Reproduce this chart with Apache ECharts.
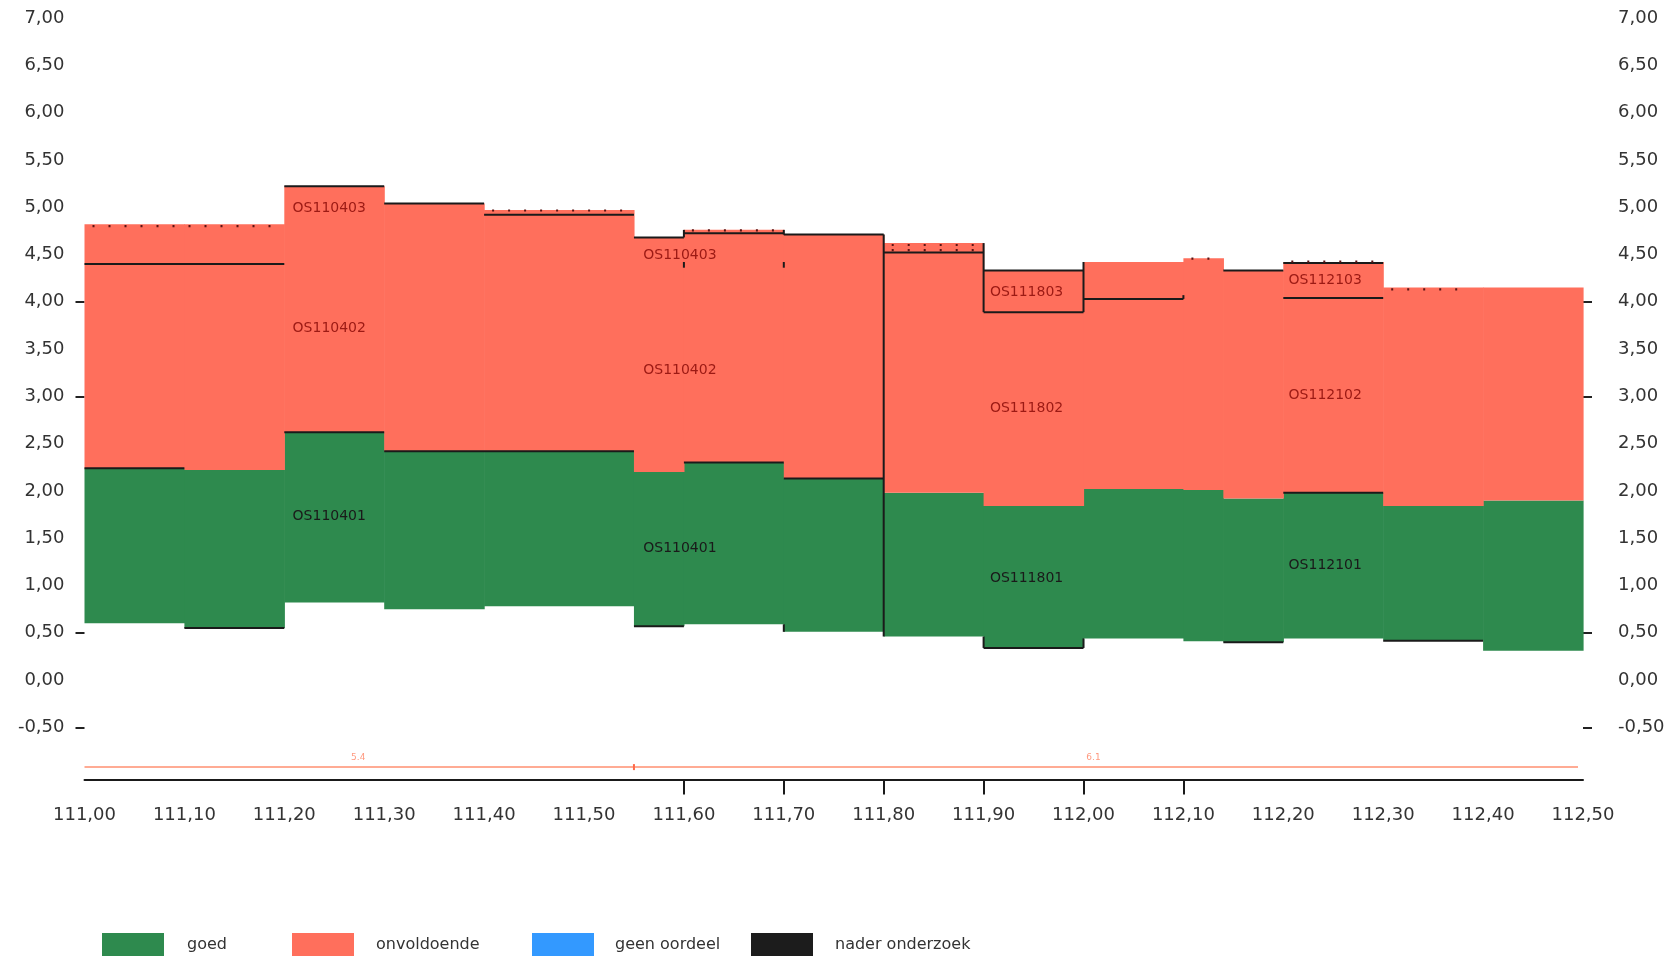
<!DOCTYPE html>
<html>
<head>
<meta charset="utf-8">
<script src="https://cdn.jsdelivr.net/npm/echarts@6/dist/echarts.min.js"></script>
<style>
html,body{margin:0;padding:0;background:#fff;}
#chart{width:1678px;height:958px;}
</style>
</head>
<body>
<div id="chart"></div>
<script>
// ---- data ----
const segStart = [111.00, 111.10, 111.20, 111.30, 111.40, 111.55, 111.60, 111.70, 111.80, 111.90, 112.00, 112.10, 112.14, 112.20, 112.30, 112.40];
const segEnd   = [111.10, 111.20, 111.30, 111.40, 111.55, 111.60, 111.70, 111.80, 111.90, 112.00, 112.10, 112.14, 112.20, 112.30, 112.40, 112.50];
const goedBottom = [0.60, 0.55, 0.82, 0.75, 0.78, 0.57, 0.59, 0.51, 0.46, 0.34, 0.44, 0.41, 0.40, 0.44, 0.42, 0.31];
const goedTop    = [2.24, 2.22, 2.62, 2.42, 2.42, 2.20, 2.30, 2.13, 1.98, 1.84, 2.02, 2.01, 1.92, 1.98, 1.84, 1.90];
const onvoldoendeTop = [4.82, 4.82, 5.22, 5.04, 4.97, 4.68, 4.76, 4.71, 4.62, 4.33, 4.42, 4.46, 4.33, 4.42, 4.15, 4.15];

// black boundary lines: [x1, x2, y]
const blackLines = [
  [111.00, 111.20, 4.40], [111.00, 111.10, 2.24], [111.10, 111.20, 0.55],
  [111.20, 111.30, 5.22], [111.20, 111.30, 2.62], [111.30, 111.40, 5.04],
  [111.30, 111.55, 2.42], [111.40, 111.55, 4.92], [111.55, 111.60, 4.68],
  [111.55, 111.60, 0.57], [111.60, 111.70, 4.725], [111.60, 111.70, 2.30],
  [111.70, 111.80, 4.71], [111.70, 111.80, 2.13], [111.80, 111.90, 4.52],
  [111.90, 112.00, 4.33], [111.90, 112.00, 3.89], [111.90, 112.00, 0.34],
  [112.00, 112.10, 4.03], [112.14, 112.20, 4.33], [112.14, 112.20, 0.40],
  [112.20, 112.30, 4.41], [112.20, 112.30, 4.04], [112.20, 112.30, 1.98],
  [112.30, 112.40, 0.415]
];
// vertical boundary lines: [x, y1, y2]
const blackVerticals = [
  [111.60, 4.36, 4.42], [111.70, 4.36, 4.42], [111.60, 4.68, 4.76], [111.70, 4.71, 4.76],
  [111.80, 0.46, 4.71], [111.90, 3.89, 4.62], [112.00, 3.89, 4.42],
  [111.90, 0.34, 0.46], [112.00, 0.34, 0.44], [111.70, 0.51, 0.59], [112.10, 4.03, 4.07]
];
// dotted lines: [x1, x2, y]
const dottedLines = [
  [111.00, 111.20, 4.80], [111.40, 111.55, 4.965], [111.60, 111.70, 4.755],
  [111.80, 111.90, 4.60], [111.80, 111.90, 4.545], [112.10, 112.14, 4.455],
  [112.20, 112.30, 4.425], [112.30, 112.39, 4.13]
];

const labelNames = ['OS110403','OS110402','OS110401','OS110403','OS110402','OS110401','OS111803','OS111802','OS111801','OS112103','OS112102','OS112101'];
const labelX = [111.245, 111.245, 111.245, 111.596, 111.596, 111.596, 111.943, 111.943, 111.943, 112.242, 112.242, 112.242];
const labelY = [4.99, 3.72, 1.73, 4.49, 3.27, 1.39, 4.10, 2.87, 1.08, 4.23, 3.01, 1.215];
const labelZone = ['r','r','g','r','r','g','r','r','g','r','r','g'];

// bottom strip
const stripLine = [111.00, 112.495, -0.92];
const stripMarks = [111.55];
const stripTexts = ['5.4', '6.1'];
const stripTextX = [111.274, 112.01];
const stripTextY = -0.82;

const yLabelValues = [-0.5, 0, 0.5, 1, 1.5, 2, 2.5, 3, 3.5, 4, 4.5, 5, 5.5, 6, 6.5, 7];
const yTickValues = [4, 3, 0.5, -0.5];
const xTickValues = [111.6, 111.7, 111.8, 111.9, 112.0, 112.1];

const GREEN = '#2e8a4e';
const RED = '#ff6f5c';
const BLUE = '#3399ff';
const BLACK = '#1c1c1c';
const FONT = 'DejaVu Sans';

function fmt(v){ return v.toFixed(2).replace('.', ','); }

function rectRender(color){
  return function(params, api){
    const p1 = api.coord([api.value(0), api.value(3)]);
    const p2 = api.coord([api.value(1), api.value(2)]);
    return {type:'rect', shape:{x:p1[0], y:p1[1], width:p2[0]-p1[0]+0.6, height:p2[1]-p1[1]}, style:{fill:color}};
  };
}

const chart = echarts.init(document.getElementById('chart'));
const option = {
  animation: false,
  backgroundColor: '#fff',
  grid: {left: 84.5, right: 95, top: 18, bottom: 178.6},
  xAxis: {
    type: 'value', min: 111, max: 112.5, interval: 0.1,
    splitLine: {show: false},
    axisLine: {show: true, onZero: false, lineStyle: {color: '#1a1a1a', width: 2}},
    axisTick: {show: true, customValues: xTickValues, length: 15, lineStyle: {color: '#1a1a1a', width: 2}},
    axisLabel: {formatter: fmt, fontFamily: FONT, fontSize: 18, color: '#333', margin: 27}
  },
  yAxis: [
    {
      type: 'value', min: -1.05, max: 7, position: 'left',
      splitLine: {show: false}, axisLine: {show: false},
      axisTick: {show: true, customValues: yTickValues, length: 9, lineStyle: {color: '#222', width: 2}},
      axisLabel: {customValues: yLabelValues, formatter: fmt, fontFamily: FONT, fontSize: 18, color: '#333', margin: 20}
    },
    {
      type: 'value', min: -1.05, max: 7, position: 'right',
      splitLine: {show: false}, axisLine: {show: false},
      axisTick: {show: true, customValues: yTickValues, length: 9, lineStyle: {color: '#222', width: 2}},
      axisLabel: {customValues: yLabelValues, formatter: fmt, fontFamily: FONT, fontSize: 18, color: '#333', margin: 35}
    }
  ],
  legend: [
    {data: ['goed'], left: 102, top: 933, padding: 0, itemWidth: 62, itemHeight: 23, icon: 'rect', selectedMode: false,
      textStyle: {fontFamily: FONT, fontSize: 16, color: '#333', padding: [0,0,0,18]}},
    {data: ['onvoldoende'], left: 292, top: 933, padding: 0, itemWidth: 62, itemHeight: 23, icon: 'rect', selectedMode: false,
      textStyle: {fontFamily: FONT, fontSize: 16, color: '#333', padding: [0,0,0,17]}},
    {data: ['geen oordeel'], left: 532, top: 933, padding: 0, itemWidth: 62, itemHeight: 23, icon: 'rect', selectedMode: false,
      textStyle: {fontFamily: FONT, fontSize: 16, color: '#333', padding: [0,0,0,16]}},
    {data: ['nader onderzoek'], left: 751, top: 933, padding: 0, itemWidth: 62, itemHeight: 23, icon: 'rect', selectedMode: false,
      textStyle: {fontFamily: FONT, fontSize: 16, color: '#333', padding: [0,0,0,17]}}
  ],
  series: [
    {
      name: 'goed', type: 'custom', z: 1, itemStyle: {color: GREEN},
      encode: {x: [0, 1], y: [2, 3]},
      data: segStart.map((s, i) => [s, segEnd[i], goedBottom[i], goedTop[i]]),
      renderItem: rectRender(GREEN)
    },
    {
      name: 'onvoldoende', type: 'custom', z: 1, itemStyle: {color: RED},
      encode: {x: [0, 1], y: [2, 3]},
      data: segStart.map((s, i) => [s, segEnd[i], goedTop[i], onvoldoendeTop[i]]),
      renderItem: rectRender(RED)
    },
    {name: 'geen oordeel', type: 'custom', itemStyle: {color: BLUE}, data: [], renderItem: () => null},
    {name: 'nader onderzoek', type: 'custom', itemStyle: {color: BLACK}, data: [], renderItem: () => null},
    {
      type: 'custom', z: 3, silent: true, encode: {x: [0, 1], y: 2},
      data: blackLines,
      renderItem: function(params, api){
        const a = api.coord([api.value(0), api.value(2)]);
        const b = api.coord([api.value(1), api.value(2)]);
        return {type: 'line', shape: {x1: a[0], y1: a[1], x2: b[0], y2: b[1]}, style: {stroke: '#1a1a1a', lineWidth: 2}};
      }
    },
    {
      type: 'custom', z: 3, silent: true, encode: {x: 0, y: [1, 2]},
      data: blackVerticals,
      renderItem: function(params, api){
        const a = api.coord([api.value(0), api.value(1)]);
        const b = api.coord([api.value(0), api.value(2)]);
        return {type: 'line', shape: {x1: a[0], y1: a[1], x2: b[0], y2: b[1]}, style: {stroke: '#1a1a1a', lineWidth: 2}};
      }
    },
    {
      type: 'custom', z: 3, silent: true, encode: {x: [0, 1], y: 2},
      data: dottedLines,
      renderItem: function(params, api){
        const a = api.coord([api.value(0), api.value(2)]);
        const b = api.coord([api.value(1), api.value(2)]);
        return {type: 'line', shape: {x1: a[0] + 8, y1: a[1], x2: b[0] - 4, y2: b[1]}, style: {stroke: '#5a1414', lineWidth: 2.2, lineDash: [2, 14]}};
      }
    },
    {
      type: 'custom', z: 4, silent: true, encode: {x: 0, y: 1},
      data: labelNames.map((n, i) => [labelX[i], labelY[i]]),
      renderItem: function(params, api){
        const p = api.coord([api.value(0), api.value(1)]);
        const zone = labelZone[params.dataIndex];
        return {type: 'text', x: p[0], y: p[1], style: {text: labelNames[params.dataIndex], fill: zone === 'g' ? '#1a1a1a' : '#9c1a14', fontFamily: FONT, fontSize: 14, align: 'center', verticalAlign: 'middle'}};
      }
    },
    {
      type: 'custom', z: 3, silent: true, encode: {x: [0, 1], y: 2},
      data: [stripLine],
      renderItem: function(params, api){
        const a = api.coord([api.value(0), api.value(2)]);
        const b = api.coord([api.value(1), api.value(2)]);
        return {type: 'line', shape: {x1: a[0], y1: a[1], x2: b[0], y2: b[1]}, style: {stroke: '#ff8f70', lineWidth: 1.5}};
      }
    },
    {
      type: 'custom', z: 3, silent: true, encode: {x: 0},
      data: stripMarks.map(v => [v]),
      renderItem: function(params, api){
        const a = api.coord([api.value(0), stripLine[2]]);
        return {type: 'line', shape: {x1: a[0], y1: a[1] - 3, x2: a[0], y2: a[1] + 3}, style: {stroke: '#ff6a4a', lineWidth: 2}};
      }
    },
    {
      type: 'custom', z: 3, silent: true, encode: {x: 0, y: 1},
      data: stripTexts.map((t, i) => [stripTextX[i], stripTextY]),
      renderItem: function(params, api){
        const p = api.coord([api.value(0), api.value(1)]);
        return {type: 'text', x: p[0], y: p[1], style: {text: stripTexts[params.dataIndex], fill: '#ff9a80', fontFamily: FONT, fontSize: 9, align: 'center', verticalAlign: 'middle'}};
      }
    }
  ]
};
chart.setOption(option);
</script>
</body>
</html>
